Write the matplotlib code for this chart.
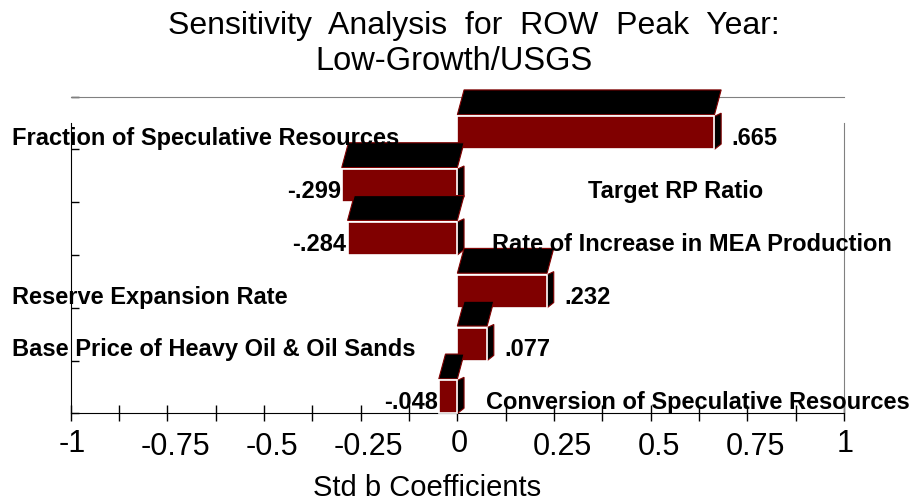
import numpy as np
import matplotlib.pyplot as plt
from matplotlib.patches import Polygon
from matplotlib.transforms import ScaledTranslation, blended_transform_factory

plt.rcParams['font.family'] = ['Liberation Sans', 'DejaVu Sans']

# data (top row first)
categories = ["Fraction of Speculative Resources", "Target RP Ratio",
              "Rate of Increase in MEA Production", "Reserve Expansion Rate",
              "Base Price of Heavy Oil & Oil Sands",
              "Conversion of Speculative Resources"]
coefs = [0.665, -0.299, -0.284, 0.232, 0.077, -0.048]
tick_vals = [-1, -0.75, -0.5, -0.25, 0, 0.25, 0.5, 0.75, 1]
tick_labels = ["-1", "-0.75", "-0.5", "-0.25", "0", "0.25", "0.5", "0.75", "1"]
title_lines = ["Sensitivity  Analysis  for  ROW  Peak  Year:", "Low-Growth/USGS"]
xlabel = "Std b Coefficients"

# where the names of negative bars sit (x in data units)
neg_name_x = [None, 0.337, 0.089, None, None, 0.074]

RED = '#800000'
H = 0.625     # front face height (rows are 1 unit)
DX = 0.0173   # depth shift in x
DY = 0.47     # depth of top face
FS = 17

fig = plt.figure(figsize=(9.16, 5.04), dpi=100)
ax = fig.add_axes([0.0772, 0.1796, 0.8442, 0.6289])
ax.set_xlim(-1, 1)
ax.set_ylim(0, 6)

n = len(categories)
name_tf = blended_transform_factory(fig.transFigure, ax.transData)
for k, (name, v) in enumerate(zip(categories, coefs)):
    b = n - 1 - k
    z = 3 + 0.1 * k
    x0, x1 = min(0, v), max(0, v)
    ax.add_patch(Polygon([(x1, b), (x1 + DX, b + 0.1), (x1 + DX, b + H + 0.06), (x1, b + H)],
                         fc='black', ec=RED, lw=0.8, zorder=z, clip_on=False))
    ax.add_patch(Polygon([(x0, b + H + 0.03), (x0 + DX, b + H + 0.03 + DY),
                          (x1 + DX, b + H + 0.03 + DY), (x1, b + H + 0.03)],
                         fc='black', ec=RED, lw=0.8, zorder=z, clip_on=False))
    ax.barh(b, v, height=H, align='edge', color=RED, edgecolor='white', lw=1.2,
            zorder=z + 0.01, clip_on=False)

    lbl = f"{v:.3f}".replace("0.", ".")
    if v > 0:
        ax.annotate(lbl, (v, b + 0.08), xytext=(17, 0), textcoords='offset pixels',
                    ha='left', va='baseline', fontsize=FS, fontweight='bold', zorder=6)
        ax.text(12 / 916, b + 0.08, name, transform=name_tf, ha='left', va='baseline',
                fontsize=FS, fontweight='bold', zorder=6)
    else:
        ax.annotate(lbl, (v, b + 0.08), xytext=(-1, 0), textcoords='offset pixels',
                    ha='right', va='baseline', fontsize=FS, fontweight='bold', zorder=6)
        ax.text(neg_name_x[k], b + 0.08, name, ha='left', va='baseline',
                fontsize=FS, fontweight='bold', zorder=6)

# axes styling
for s in ['top', 'right']:
    ax.spines[s].set_color('#808080')
ax.spines['left'].set_bounds(0, 5.5)
ax.spines['right'].set_bounds(0, 5.5)
ax.set_yticks(np.arange(0, 7))
ax.set_yticklabels([])
ax.tick_params(axis='y', direction='in', length=5.8, width=1, left=True, right=False)
ax.set_xticks(tick_vals)
ax.set_xticklabels(tick_labels)
ax.set_xticks(np.arange(-1, 1.001, 0.125), minor=True)
ax.tick_params(axis='x', which='both', direction='inout', length=11, width=1,
               labelsize=22, pad=6)

for t in ax.get_xticklabels():
    if '.' in t.get_text():
        t.set_transform(t.get_transform() + ScaledTranslation(0.08, -0.03, fig.dpi_scale_trans))
    else:
        t.set_transform(t.get_transform() + ScaledTranslation(0.015, 0, fig.dpi_scale_trans))

fig.text(473.5 / 916, 1 - 34 / 504, title_lines[0], ha='center', va='baseline', fontsize=23)
fig.text(454 / 916, 1 - 70 / 504, title_lines[1], ha='center', va='baseline', fontsize=23.5)
fig.text(427.5 / 916, 8 / 504, xlabel, ha='center', va='baseline', fontsize=21)

fig.savefig('out.png', dpi=100)
